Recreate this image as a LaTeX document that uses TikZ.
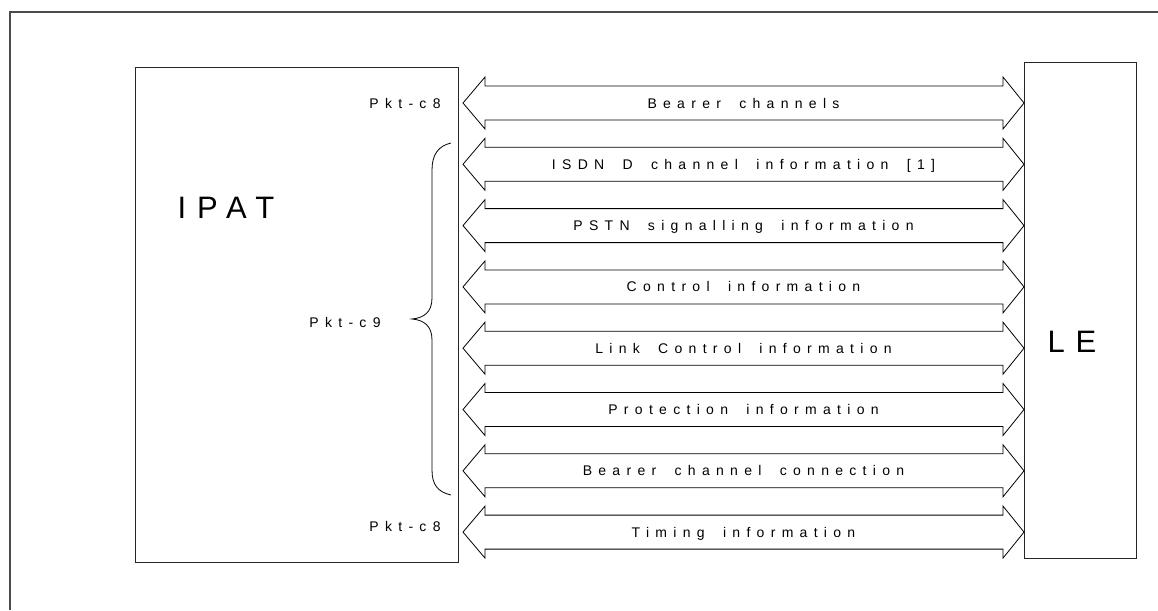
\documentclass[tikz,border=0pt]{standalone}
\usepackage{fontspec}
\setmainfont{Liberation Sans}
\newfontfamily\lblfont[LetterSpace=45,WordSpace=1.8]{Liberation Sans}
\newfontfamily\bigfont[LetterSpace=35]{Liberation Sans}
\usetikzlibrary{calc}
\begin{document}
\begin{tikzpicture}[x=1pt,y=-1pt,
  box/.style={draw=black!85, line width=1pt, inner sep=0pt},
  flow/.style={draw=black, line width=0.8pt, line join=miter},
  lbl/.style={font=\lblfont\fontsize{14}{16}\selectfont, anchor=base, inner sep=0pt},
  big/.style={font=\bigfont\fontsize{31}{36}\selectfont, anchor=base, inner sep=0pt}]
\useasboundingbox (0,0) rectangle (1158,610);
% page frame
\draw[black!70, line width=1.3pt] (10,610) -- (10,12) -- (1158,12);
% end points
\node[box, minimum width=323pt, minimum height=495pt, anchor=north west] (ipat) at (135,67) {};
\node[box, minimum width=112pt, minimum height=496pt, anchor=north west] (le) at (1024,62) {};
\node[big] (ipatname) at (226,218) {IPAT};
\node[big] (lename) at (1072,352) {LE};
% information flows: double-headed block arrows between IPAT and LE
\foreach \i/\t in {0/Bearer channels,
                   1/ISDN D channel information [1],
                   2/PSTN signalling information,
                   3/Control information,
                   4/Link Control information,
                   5/Protection information,
                   6/Bearer channel connection,
                   7/Timing information}{
  \coordinate (l\i) at ([xshift=4pt]ipat.east |- 0,103+61.3*\i);
  \coordinate (r\i) at (le.west |- 0,103+61.3*\i);
  \draw[flow] (l\i) -- ++(22,-26) -- ++(0,9) -- ([shift={(-21,-17)}]r\i)
    -- ++(0,-9) -- (r\i) -- ++(-21,26) -- ++(0,-9) -- ([shift={(22,17)}]l\i)
    -- ++(0,9) -- cycle;
  \node[lbl] (t\i) at ([yshift=-5pt]$(l\i)!0.5!(r\i)$) {\t};
}
% interface labels
\node[lbl] (c8top) at (405,108) {Pkt-c8};
\node[lbl] (c8bot) at (405,531) {Pkt-c8};
\node[lbl] (c9) at (345,327) {Pkt-c9};
% brace grouping the Pkt-c9 flows
\draw[line width=0.8pt] (451,143) .. controls (438,146) and (432,155) .. (432,170)
  -- (432,298) .. controls (432,312) and (424,318) .. (412,319)
  .. controls (424,320) and (432,326) .. (432,340)
  -- (432,470) .. controls (432,485) and (438,492) .. (451,495);
\end{tikzpicture}
\end{document}
